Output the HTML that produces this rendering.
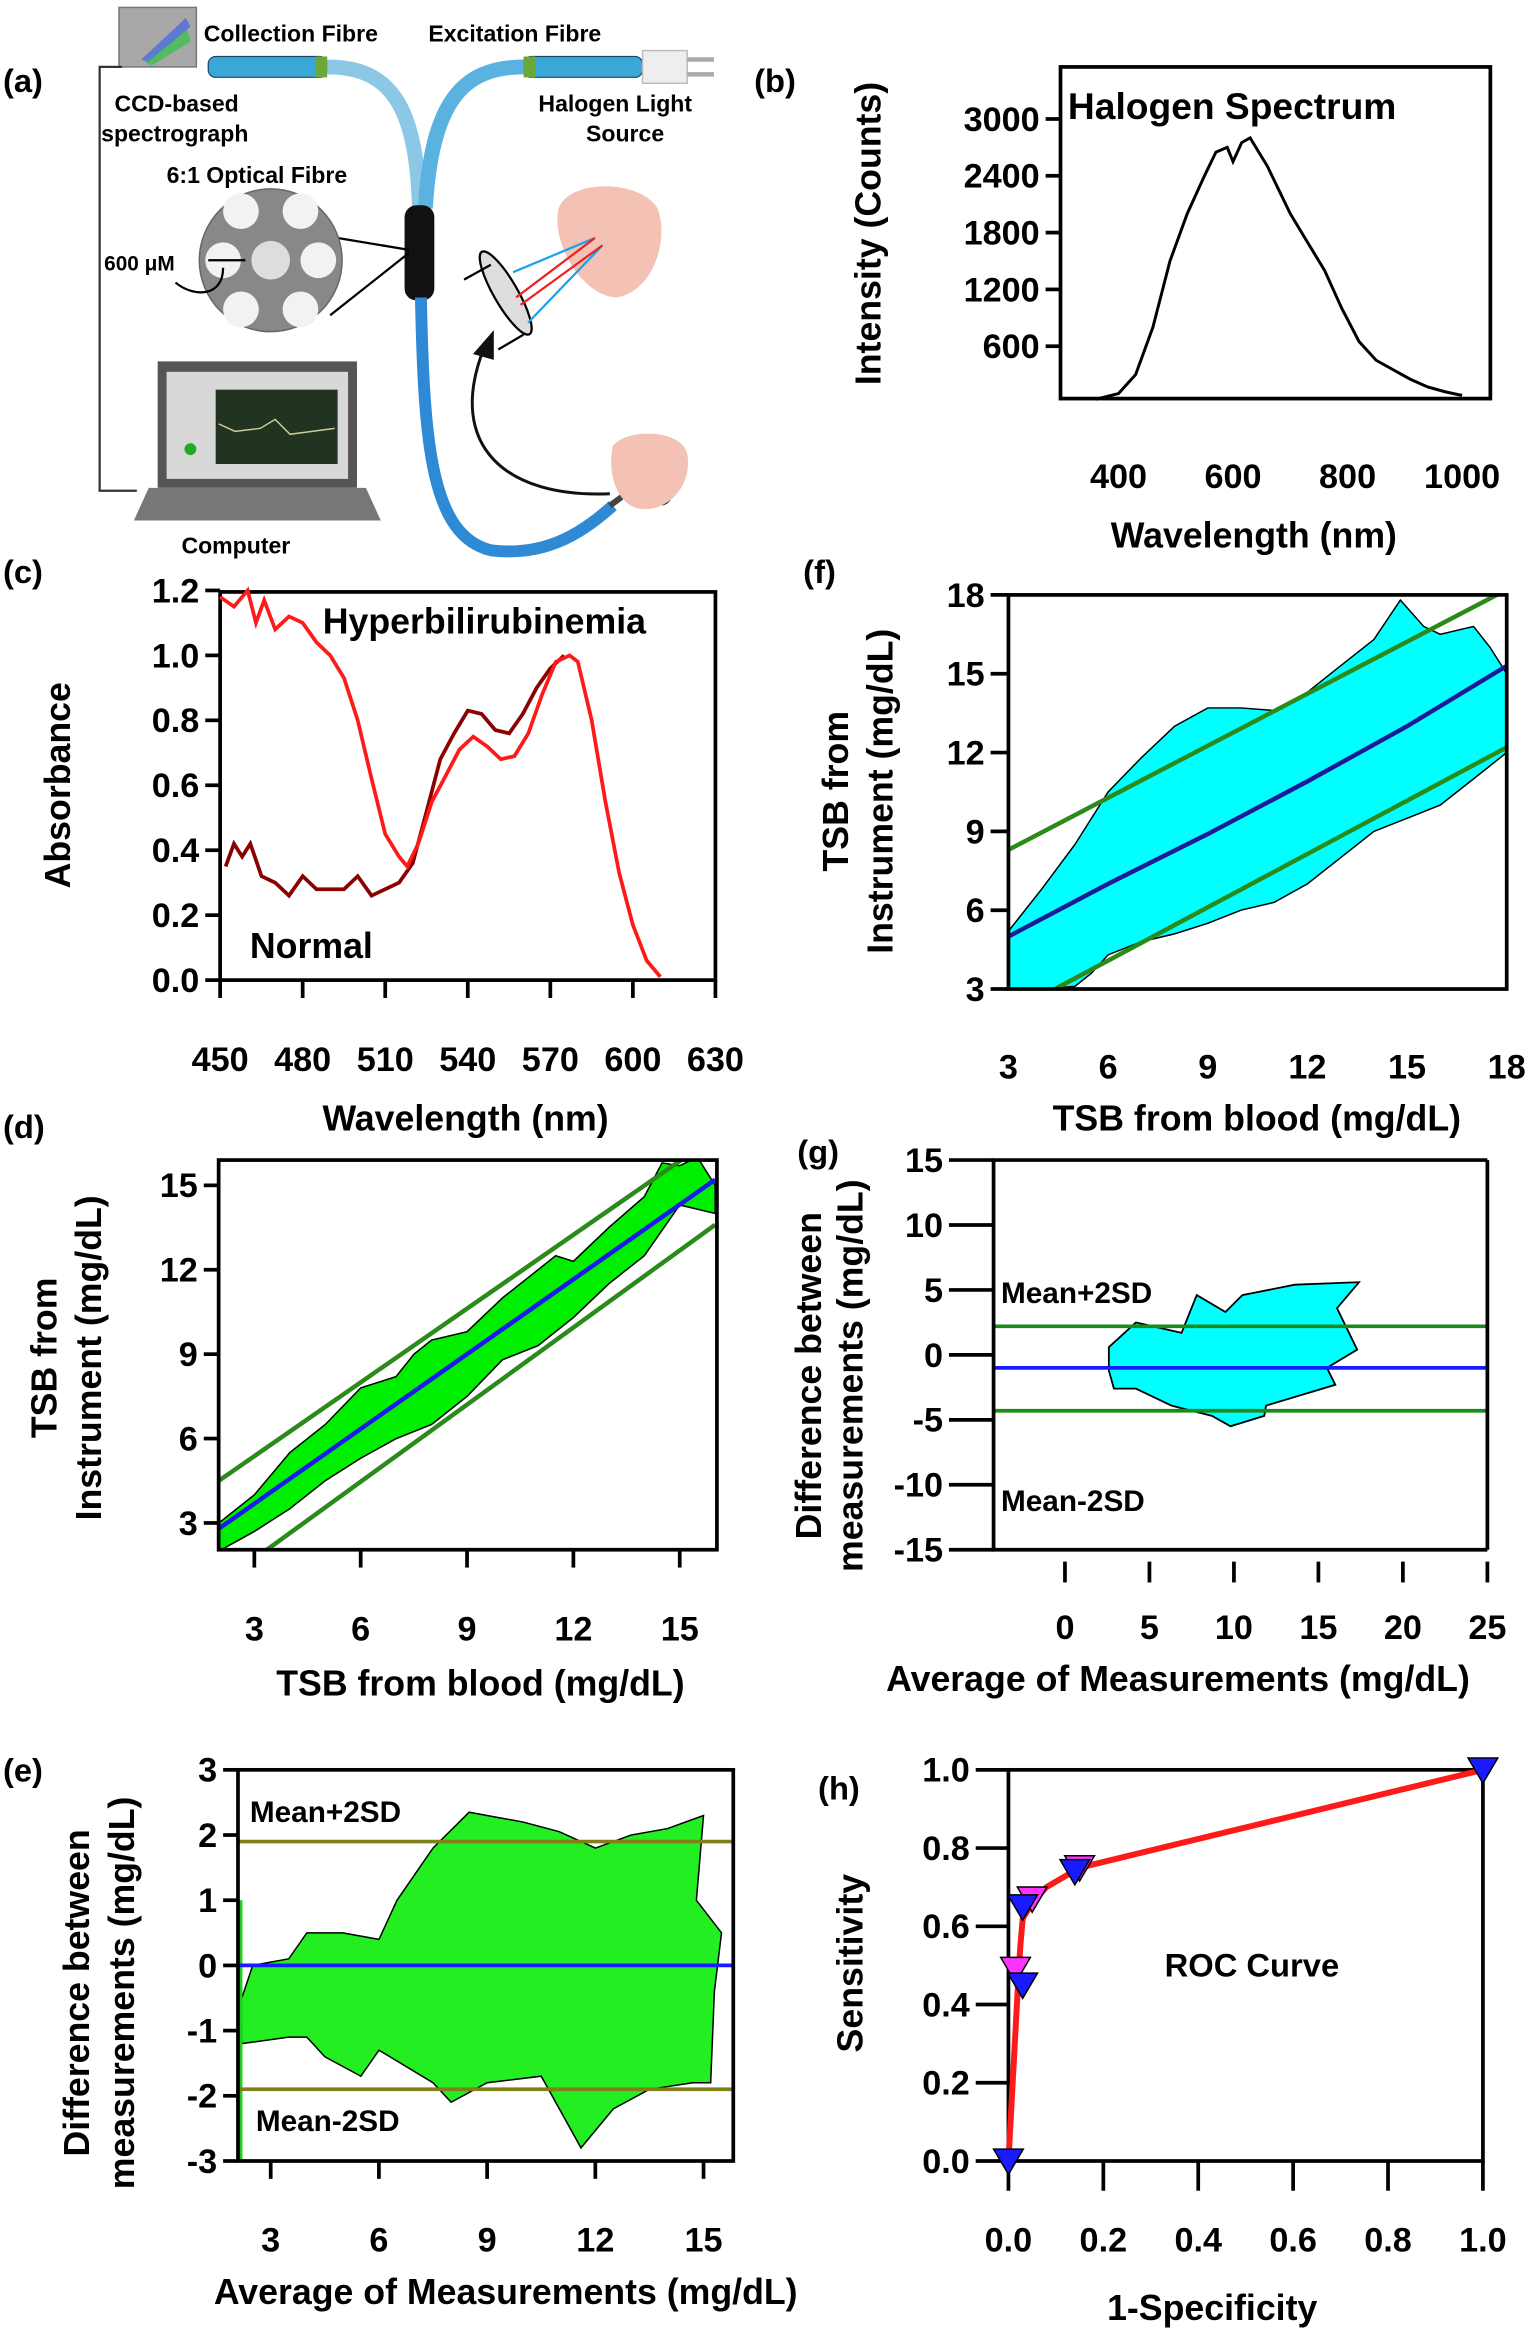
<!DOCTYPE html>
<html><head><meta charset="utf-8"><style>
html,body{margin:0;padding:0;background:#fff;}
svg{display:block;font-family:"Liberation Sans",Arial,sans-serif;font-weight:bold;}
</style></head><body>
<svg id="fig" xmlns="http://www.w3.org/2000/svg" width="1532" height="2335" viewBox="0 0 1030 1570" preserveAspectRatio="none">
<rect width="1030" height="1570" fill="#fff"/>
<g>
  <text x="2" y="62" font-size="22">(a)</text>
  <rect x="80" y="5" width="52" height="40" fill="#a8a8a8" stroke="#777"/>
  <polygon points="95,40 125,12 128,18 100,42" fill="#4a6be0" opacity="0.8"/>
  <polygon points="98,42 126,20 128,28 102,44" fill="#3fbf4f" opacity="0.8"/>
  <polyline points="82,45 67,45 67,330 92,330" fill="none" stroke="#333" stroke-width="1.5"/>
  <rect x="140" y="38" width="80" height="14" rx="5" fill="#3aa7d9" stroke="#246" stroke-width="0.8"/>
  <rect x="212" y="38" width="8" height="14" fill="#6aa83a"/>
  <rect x="352" y="38" width="80" height="14" rx="5" fill="#3aa7d9" stroke="#246" stroke-width="0.8"/>
  <rect x="352" y="38" width="8" height="14" fill="#6aa83a"/>
  <rect x="432" y="34" width="30" height="22" fill="#eee" stroke="#bbb"/>
  <line x1="462" y1="40" x2="480" y2="40" stroke="#aaa" stroke-width="3"/><line x1="462" y1="50" x2="480" y2="50" stroke="#aaa" stroke-width="3"/>
  <path d="M220,45 C262,45 280,70 282,140" fill="none" stroke="#8cc8e6" stroke-width="10"/>
  <path d="M352,45 C310,45 290,70 286,140" fill="none" stroke="#5ab2e0" stroke-width="10"/>
  <rect x="272" y="138" width="20" height="64" rx="8" fill="#111"/>
  <path d="M283,200 C285,300 290,360 330,370 C370,375 395,355 412,340" fill="none" stroke="#2f8ad6" stroke-width="8"/>
  <line x1="410" y1="340" x2="440" y2="318" stroke="#444" stroke-width="4"/>
  <circle cx="444" cy="332" r="7" fill="none" stroke="#000" stroke-width="2"/>
  <line x1="215" y1="158" x2="275" y2="168" stroke="#000" stroke-width="1.5"/>
  <line x1="222" y1="212" x2="275" y2="170" stroke="#000" stroke-width="1.5"/>
  <circle cx="182" cy="175" r="48" fill="#888" stroke="#666"/>
  <circle cx="182" cy="175" r="13" fill="#ddd"/>
  <circle cx="162" cy="142" r="12" fill="#f2f2f2"/><circle cx="202" cy="142" r="12" fill="#f2f2f2"/>
  <circle cx="150" cy="175" r="12" fill="#f2f2f2"/><circle cx="214" cy="175" r="12" fill="#f2f2f2"/>
  <circle cx="162" cy="208" r="12" fill="#f2f2f2"/><circle cx="202" cy="208" r="12" fill="#f2f2f2"/>
  <path d="M140,175 L165,175" stroke="#000" stroke-width="1.5"/>
  <path d="M150,180 C150,200 130,200 118,190" fill="none" stroke="#000" stroke-width="1.5"/>
  <rect x="106" y="243" width="134" height="85" fill="#555"/>
  <rect x="112" y="250" width="122" height="72" fill="#d8d8d8"/>
  <rect x="145" y="262" width="82" height="50" fill="#223322"/>
  <polyline points="147,285 158,290 175,288 185,282 195,292 225,288" fill="none" stroke="#cc9" stroke-width="1"/>
  <circle cx="128" cy="302" r="4" fill="#2a2"/>
  <polygon points="100,328 246,328 256,350 90,350" fill="#777"/>
  <g>
    <path d="M375,142 C380,120 430,120 442,140 C450,160 440,195 415,200 C395,200 372,170 375,142Z" fill="#f4c2b4"/>
    <path d="M412,300 C420,288 458,288 462,305 C466,325 450,345 430,342 C415,340 408,318 412,300Z" fill="#f4c2b4"/>
  </g>
  <ellipse cx="340" cy="197" rx="8" ry="32" transform="rotate(-30 340 197)" fill="#ddd" stroke="#000" stroke-width="1.5"/>
  <line x1="312" y1="188" x2="330" y2="178" stroke="#000" stroke-width="1.5"/>
  <line x1="335" y1="235" x2="352" y2="225" stroke="#000" stroke-width="1.5"/>
  <line x1="345" y1="183" x2="400" y2="160" stroke="#1aa3e8" stroke-width="1.5"/>
  <line x1="355" y1="217" x2="405" y2="165" stroke="#1aa3e8" stroke-width="1.5"/>
  <line x1="347" y1="200" x2="400" y2="160" stroke="#e22" stroke-width="1.5"/>
  <line x1="350" y1="205" x2="405" y2="165" stroke="#e22" stroke-width="1.5"/>
  <path d="M410,332 C340,335 300,300 325,235" fill="none" stroke="#111" stroke-width="2"/>
  <polygon points="318,238 332,222 332,242" fill="#111"/>
  <text x="137" y="28" font-size="15.5">Collection Fibre</text>
  <text x="288" y="28" font-size="15.5">Excitation Fibre</text>
  <text x="77" y="75" font-size="15.5">CCD-based</text>
  <text x="68" y="95" font-size="15.5">spectrograph</text>
  <text x="362" y="75" font-size="15.5">Halogen Light</text>
  <text x="394" y="95" font-size="15.5">Source</text>
  <text x="112" y="123" font-size="15.5">6:1 Optical Fibre</text>
  <text x="70" y="182" font-size="14">600 μM</text>
  <text x="122" y="372" font-size="15.5">Computer</text>
</g>
<g id="charts"></g>
</svg>
<script>
const halogenWl = [360,400,430,460,490,520,550,570,590,600,615,630,645,660,680,700,730,760,790,820,850,880,910,940,970,1000];
const halogenCounts = [40,100,300,800,1500,2000,2400,2650,2700,2550,2750,2800,2650,2500,2250,2000,1700,1400,1000,650,450,350,250,170,120,80];
const hyperWl = [450,455,460,463,466,470,475,480,485,490,495,500,505,510,515,518,522,527,532,537,542,547,552,557,562,567,572,577,580,585,590,595,600,605,610];
const hyperAbs = [1.18,1.15,1.2,1.1,1.17,1.08,1.12,1.1,1.04,1.0,0.93,0.8,0.62,0.45,0.38,0.35,0.42,0.55,0.63,0.71,0.75,0.72,0.68,0.69,0.76,0.88,0.98,1.0,0.98,0.8,0.55,0.33,0.17,0.06,0.01];
const normalWl = [452,455,458,461,465,470,475,480,485,490,495,500,505,510,515,520,525,530,535,540,545,550,555,560,565,570,575];
const normalAbs = [0.35,0.42,0.38,0.42,0.32,0.3,0.26,0.32,0.28,0.28,0.28,0.32,0.26,0.28,0.3,0.36,0.52,0.68,0.76,0.83,0.82,0.77,0.76,0.82,0.9,0.96,1.0];
const fBandX = [3,4,5,6,7,8,9,10,11,12,13,14,14.8,15.5,16,17,17.5,18,18,17,16,15,14,13,12,11,10,9,8,7,6,5.5,5,4,3];
const fBandY = [5.2,6.8,8.5,10.5,11.8,13,13.7,13.7,13.6,14.3,15.3,16.3,17.8,16.8,16.5,16.8,16,15,12,11,10,9.5,9,8,7,6.3,6,5.5,5.1,4.8,4.3,3.6,3.1,3,3];
const fMean = [[3,5],[6,7],[9,8.9],[12,10.9],[15,13],[18,15.3]];
const fUpper = [[3,8.3],[18,18.2]];
const fLower = [[4.4,3],[18,12.2]];
const dBandX = [2,3,4,5,6,7,7.5,8,9,10,11,11.5,12,13,14,14.5,15,15.5,16,16,15,14,13,12,11,10,9,8,7,6,5,4,3,2];
const dBandY = [3,4,5.5,6.5,7.8,8.2,9,9.5,9.8,11,12,12.5,12.3,13.5,14.6,15.8,15.7,16,15,14,14.3,12.5,11.5,10.3,9.3,8.8,7.5,6.5,6,5.3,4.5,3.5,2.7,2];
const dMean = [[2,2.8],[16,15.2]];
const dUpper = [[2,4.5],[15.5,16.3]];
const dLower = [[3.3,2],[16,13.6]];
const gBlobX = [2.6,4.2,6.9,7.8,9.5,10.5,13.6,17.4,16.1,17.3,15.5,16,11.9,11.8,9.8,8.7,6.3,4.2,2.9,2.6];
const gBlobY = [0.6,2.5,1.7,4.6,3.3,4.6,5.4,5.6,3.6,0.4,-1,-2.3,-3.9,-4.7,-5.5,-4.7,-3.9,-2.6,-2.6,-1.2];
const gLines = [2.2,-1.0,-4.3];
const eBandX = [2.1,2.2,2.5,3.5,4,5,6,6.5,7.5,8.5,10,11,12,13,14,15,14.8,15.5,15.3,15.2,14.7,13.5,12.5,11.6,10.5,9,8,7.5,6,5.5,4.5,4,3.5,2.2];
const eBandY = [1.0,-0.5,0,0.1,0.5,0.5,0.4,1.0,1.8,2.35,2.2,2.05,1.8,2.0,2.1,2.3,1.0,0.5,-0.4,-1.8,-1.8,-1.9,-2.2,-2.8,-1.7,-1.8,-2.1,-1.8,-1.3,-1.7,-1.4,-1.1,-1.1,-1.2];
const eLines = [1.9,0,-1.9];
const rocX = [0,0.02,0.025,0.03,0.05,0.08,0.15,1];
const rocY = [0,0.45,0.55,0.62,0.66,0.7,0.75,1];
const rocBlueX = [0,0.03,0.03,0.14,1];
const rocBlueY = [0,0.45,0.65,0.74,1];
const rocPinkX = [0.015,0.05,0.15];
const rocPinkY = [0.49,0.67,0.75];

const NS="http://www.w3.org/2000/svg";
const root=document.getElementById('charts');
function mk(tag,attrs,parent,text){const e=document.createElementNS(NS,tag);for(const k in attrs)e.setAttribute(k,attrs[k]);if(text!==undefined)e.textContent=text;(parent||root).appendChild(e);return e;}
function lin(d0,d1,r0,r1){return v=>r0+(v-d0)/(d1-d0)*(r1-r0);}
function pts(xs,ys,sx,sy){return xs.map((x,i)=>sx(x).toFixed(1)+','+sy(ys[i]).toFixed(1)).join(' ');}

function axes(g,b,sx,sy,xt,yt,opt){
  opt=opt||{};
  if(opt.noRight){mk('polyline',{points:`${b.x1},${b.y0} ${b.x0},${b.y0} ${b.x0},${b.y1} ${b.x1},${b.y1}`,fill:'none',stroke:'#000','stroke-width':2.5},g);}
  else{const frame=mk('rect',{x:b.x0,y:b.y0,width:b.x1-b.x0,height:b.y1-b.y0,fill:'none',stroke:'#000','stroke-width':2.5},g);
  
  }
  const fs=opt.fs||23;
  yt.forEach(v=>{const y=sy(v);
    mk('line',{x1:b.x0-(opt.ytl||10),x2:b.x0,y1:y,y2:y,stroke:'#000','stroke-width':2.5},g);
    const t=mk('text',{x:b.x0-(opt.ytl||10)-4,y:y+8,'font-size':fs,'text-anchor':'end'},g,String(opt.yfmt?opt.yfmt(v):v));
    
    
  });
  const off=opt.xoff||0,len=opt.xtl||0;
  xt.forEach(v=>{const x=sx(v);
    if(len)mk('line',{x1:x,x2:x,y1:b.y1+off,y2:b.y1+off+len,stroke:'#000','stroke-width':2.5},g);
    const t=mk('text',{x:x,y:b.y1+(opt.xlab||40),'font-size':fs,'text-anchor':'middle'},g,String(opt.xfmt?opt.xfmt(v):v));
    
    
  });
}
function label(g,txt,x,y,fs,name,rot){const a={x:x,y:y,'font-size':fs,'text-anchor':'middle'};if(rot)a.transform=`rotate(-90 ${x} ${y})`;const t=mk('text',a,g,txt);return t;}
function plain(g,txt,x,y,fs,name){const t=mk('text',{x:x,y:y,'font-size':fs},g,txt);}

// (b)
{const g=mk('g',{});
 const b={x0:713,x1:1002,y0:45,y1:268};const sx=lin(400,1000,752,983),sy=lin(0,3000,271,80);
 axes(g,b,sx,sy,[400,600,800,1000],[600,1200,1800,2400,3000],{xlab:60});
 const l=mk('polyline',{points:pts(halogenWl,halogenCounts,sx,sy),fill:'none',stroke:'#000','stroke-width':2},g);
 
 plain(g,'(b)',507,62,22,'panel-label-b');
 plain(g,'Halogen Spectrum',718,80,25,'halogen-title');
 label(g,'Intensity (Counts)',592,157,24,'y-axis-title',true);
 label(g,'Wavelength (nm)',843,368,24,'x-axis-title');}
// (c)
{const g=mk('g',{});
 const b={x0:148,x1:481,y0:398,y1:659};const sx=lin(450,630,148,481),sy=lin(0,1.2,659,397);
 axes(g,b,sx,sy,[450,480,510,540,570,600,630],[0,0.2,0.4,0.6,0.8,1.0,1.2],{xtl:12,xlab:61,yfmt:v=>v.toFixed(1)});
 const n=mk('polyline',{points:pts(normalWl,normalAbs,sx,sy),fill:'none',stroke:'#8b0000','stroke-width':2.5},g);
 
 const h=mk('polyline',{points:pts(hyperWl,hyperAbs,sx,sy),fill:'none',stroke:'#ff1a1a','stroke-width':2.5},g);
 
 plain(g,'(c)',2,392,22,'panel-label-c');
 plain(g,'Hyperbilirubinemia',217,426,24,'hyper-label');
 plain(g,'Normal',168,644,24,'normal-label');
 label(g,'Absorbance',47,528,24,'y-axis-title',true);
 label(g,'Wavelength (nm)',313,760,24,'x-axis-title');}
// (f)
{const g=mk('g',{});
 const b={x0:678,x1:1013,y0:400,y1:665};const sx=lin(3,18,678,1013),sy=lin(3,18,665,400);
 const cp=mk('clipPath',{id:'cf'},g);mk('rect',{x:b.x0,y:b.y0,width:b.x1-b.x0,height:b.y1-b.y0},cp);
 const gg=mk('g',{'clip-path':'url(#cf)'},g);
 const band=mk('polygon',{points:pts(fBandX,fBandY,sx,sy),fill:'#00ffff',stroke:'#000','stroke-width':1},gg);
 
 [[fUpper,'#2a8a1a','upper-line'],[fLower,'#2a8a1a','lower-line'],[fMean,'#1a1a9a','mean-line']].forEach(([d,c,nm])=>{
  const l=mk('polyline',{points:pts(d.map(p=>p[0]),d.map(p=>p[1]),sx,sy),fill:'none',stroke:c,'stroke-width':3},gg);
  });
 axes(g,b,sx,sy,[3,6,9,12,15,18],[3,6,9,12,15,18],{xlab:60,ytl:12});
 plain(g,'(f)',540,392,22,'panel-label-f');
 label(g,'TSB from',570,532,24,'y-axis-title',true);
 label(g,'Instrument (mg/dL)',600,532,24,'y-axis-title',true);
 label(g,'TSB from blood (mg/dL)',845,760,24,'x-axis-title');}
// (d)
{const g=mk('g',{});
 const b={x0:147,x1:482,y0:780,y1:1042};const sx=lin(3,15,171,457),sy=lin(3,15,1024,797);
 const cp=mk('clipPath',{id:'cd'},g);mk('rect',{x:b.x0,y:b.y0,width:b.x1-b.x0,height:b.y1-b.y0},cp);
 const gg=mk('g',{'clip-path':'url(#cd)'},g);
 const band=mk('polygon',{points:pts(dBandX,dBandY,sx,sy),fill:'#00ee00',stroke:'#000','stroke-width':1},gg);
 
 [[dUpper,'#2a8a1a','upper-line'],[dLower,'#2a8a1a','lower-line'],[dMean,'#1a1aee','mean-line']].forEach(([d,c,nm])=>{
  const l=mk('polyline',{points:pts(d.map(p=>p[0]),d.map(p=>p[1]),sx,sy),fill:'none',stroke:c,'stroke-width':3},gg);
  });
 axes(g,b,sx,sy,[3,6,9,12,15],[3,6,9,12,15],{xtl:12,xlab:61});
 plain(g,'(d)',2,765,22,'panel-label-d');
 label(g,'TSB from',38,913,24,'y-axis-title',true);
 label(g,'Instrument (mg/dL)',68,913,24,'y-axis-title',true);
 label(g,'TSB from blood (mg/dL)',323,1140,24,'x-axis-title');}
// (g)
{const g=mk('g',{});
 const b={x0:668,x1:1000,y0:780,y1:1042};const sx=lin(0,25,716,1000),sy=lin(-15,15,1042,780);
 const blob=mk('polygon',{points:pts(gBlobX,gBlobY,sx,sy),fill:'#00ffff',stroke:'#000','stroke-width':1.2},g);
 
 const cols=['#1a8a1a','#1a1aff','#1a8a1a'],nms=['mean-plus-2sd-line','mean-line','mean-minus-2sd-line'];
 gLines.forEach((v,i)=>{const l=mk('line',{x1:b.x0,x2:b.x1,y1:sy(v),y2:sy(v),stroke:cols[i],'stroke-width':2.5},g);
  });
 mk('polyline',{points:`${b.x1},${b.y0} ${b.x1},${b.y1}`,fill:'none',stroke:'#000','stroke-width':2.5},g);
 axes(g,b,sx,sy,[0,5,10,15,20,25],[-15,-10,-5,0,5,10,15],{xoff:8,xtl:14,xlab:60,ytl:30,noRight:true});
 plain(g,'(g)',536,782,22,'panel-label-g');
 plain(g,'Mean+2SD',673,876,20,'mean-plus-2sd-label');
 plain(g,'Mean-2SD',673,1016,20,'mean-minus-2sd-label');
 label(g,'Difference between',552,925,24,'y-axis-title',true);
 label(g,'measurements (mg/dL)',580,925,24,'y-axis-title',true);
 label(g,'Average of Measurements (mg/dL)',792,1137,24,'x-axis-title');}
// (e)
{const g=mk('g',{});
 const b={x0:160,x1:493,y0:1190,y1:1453};const sx=lin(3,15,182,473),sy=lin(-3,3,1453,1190);
 const band=mk('polygon',{points:pts(eBandX,eBandY,sx,sy),fill:'#22ee22',stroke:'#000','stroke-width':1},g);
 
 mk('line',{x1:162,x2:162,y1:sy(1),y2:b.y1,stroke:'#22cc22','stroke-width':2},g);
 const cols=['#80801a','#1a1aff','#80801a'],nms=['mean-plus-2sd-line','mean-line','mean-minus-2sd-line'];
 eLines.forEach((v,i)=>{const l=mk('line',{x1:b.x0,x2:b.x1,y1:sy(v),y2:sy(v),stroke:cols[i],'stroke-width':2.5},g);
  });
 axes(g,b,sx,sy,[3,6,9,12,15],[-3,-2,-1,0,1,2,3],{xtl:12,xlab:61});
 plain(g,'(e)',2,1198,22,'panel-label-e');
 plain(g,'Mean+2SD',168,1225,20,'mean-plus-2sd-label');
 plain(g,'Mean-2SD',172,1433,20,'mean-minus-2sd-label');
 label(g,'Difference between',60,1340,24,'y-axis-title',true);
 label(g,'measurements (mg/dL)',90,1340,24,'y-axis-title',true);
 label(g,'Average of Measurements (mg/dL)',340,1549,24,'x-axis-title');}
// (h)
{const g=mk('g',{});
 const b={x0:678,x1:997,y0:1190,y1:1453};const sx=lin(0,1,678,997),sy=lin(0,1,1453,1190);
 axes(g,b,sx,sy,[0,0.2,0.4,0.6,0.8,1.0],[0,0.2,0.4,0.6,0.8,1.0],{xtl:20,xlab:61,ytl:22,xfmt:v=>v.toFixed(1),yfmt:v=>v.toFixed(1)});
 const l=mk('polyline',{points:pts(rocX,rocY,sx,sy),fill:'none',stroke:'#ff1a1a','stroke-width':4,'stroke-linejoin':'round'},g);
 
 function tri(x,y,c,nm){const X=sx(x),Y=sy(y);const t=mk('polygon',{points:`${X-10},${Y-8} ${X+10},${Y-8} ${X},${Y+9}`,fill:c,stroke:'#000','stroke-width':1},g);
  }
 rocPinkX.forEach((x,i)=>tri(x,rocPinkY[i],'#ff33ff','roc-point-alt'));
 rocBlueX.forEach((x,i)=>tri(x,rocBlueY[i],'#1a1aff','roc-point'));
 plain(g,'(h)',550,1210,22,'panel-label-h');
 plain(g,'ROC Curve',783,1329,22,'roc-label');
 label(g,'Sensitivity',580,1320,24,'y-axis-title',true);
 label(g,'1-Specificity',815,1560,24,'x-axis-title');}
</script>
</body></html>
